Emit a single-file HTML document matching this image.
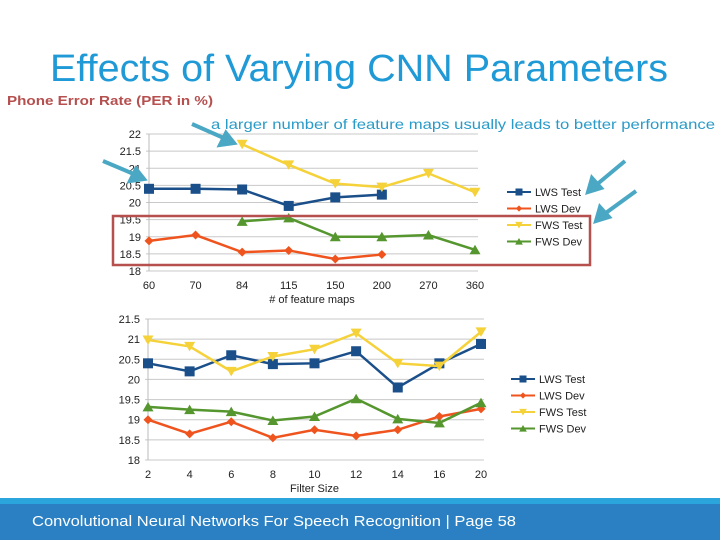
<!DOCTYPE html>
<html><head><meta charset="utf-8"><style>
html,body{margin:0;padding:0;background:#fff;}
svg{display:block;font-family:"Liberation Sans",Arial,sans-serif;}
</style></head><body>
<svg id="s" width="720" height="540" viewBox="0 0 720 540" xmlns="http://www.w3.org/2000/svg">
<text x="50" y="81" font-size="38" fill="#1f9ad6" textLength="618" lengthAdjust="spacingAndGlyphs">Effects of Varying CNN Parameters</text>
<text x="7" y="105" font-size="13" font-weight="bold" fill="#b5504f" textLength="206" lengthAdjust="spacingAndGlyphs">Phone Error Rate (PER in %)</text>
<text x="211" y="129" font-size="14" fill="#2a9bc8" textLength="504" lengthAdjust="spacingAndGlyphs">a larger number of feature maps usually leads to better performance</text>
<g id="c1"></g>
<g id="c2"></g>
<rect x="113" y="216" width="477" height="49" fill="none" stroke="#b5504f" stroke-width="2.5"/>
<g stroke="#4aa8c4" stroke-width="4" fill="#4aa8c4">
<line x1="192" y1="124" x2="226" y2="139"/><polygon points="234,143 220,145 226,133"/>
<line x1="103" y1="161" x2="136" y2="175"/><polygon points="144,179 130,181 136,169"/>
<line x1="625" y1="161" x2="595" y2="186"/><polygon points="588,192 592,178 601,188"/>
<line x1="636" y1="191" x2="603" y2="215"/><polygon points="596,221 600,207 609,217"/>
</g>
<rect x="0" y="498" width="720" height="6" fill="#2aa6dc"/>
<rect x="0" y="504" width="720" height="36" fill="#2a80c2"/>
<text x="32" y="526" font-size="15" fill="#fff" textLength="484" lengthAdjust="spacingAndGlyphs">Convolutional Neural Networks For Speech Recognition | Page  58</text>
</svg>
<script>
const c1Cats=["60","70","84","115","150","200","270","360"];
const c1LwsTest=[20.4,20.4,20.38,19.9,20.15,20.23,null,null];
const c1LwsDev=[18.88,19.05,18.55,18.6,18.35,18.48,null,null];
const c1FwsTest=[null,null,21.7,21.1,20.55,20.45,20.85,20.3];
const c1FwsDev=[null,null,19.45,19.55,19.0,19.0,19.05,18.62];
const c1Ticks=[18,18.5,19,19.5,20,20.5,21,21.5,22];
const c2Cats=["2","4","6","8","10","12","14","16","20"];
const c2LwsTest=[20.4,20.2,20.6,20.38,20.4,20.7,19.8,20.4,20.88];
const c2LwsDev=[19.0,18.65,18.95,18.55,18.75,18.6,18.75,19.08,19.27];
const c2FwsTest=[20.98,20.82,20.2,20.57,20.75,21.15,20.4,20.33,21.18];
const c2FwsDev=[19.32,19.25,19.2,18.98,19.08,19.52,19.02,18.92,19.42];
const c2Ticks=[18,18.5,19,19.5,20,20.5,21,21.5];
const seriesNames=["LWS Test","LWS Dev","FWS Test","FWS Dev"];
const colors=["#1a4f8a","#f0541e","#f5d23a","#55962e"];
const shapes=["sq","dia","tri-d","tri-u"];
const NS="http://www.w3.org/2000/svg";
function mk(t,a,p){const e=document.createElementNS(NS,t);for(const k in a)e.setAttribute(k,a[k]);p.appendChild(e);return e;}
function marker(g,shape,x,y,c){
  let e;
  if(shape==="sq")e=mk("rect",{x:x-5,y:y-5,width:10,height:10,fill:c},g);
  else if(shape==="dia")e=mk("polygon",{points:`${x},${y-4.5} ${x+4.5},${y} ${x},${y+4.5} ${x-4.5},${y}`,fill:c},g);
  else if(shape==="tri-d")e=mk("polygon",{points:`${x-5.5},${y-4.5} ${x+5.5},${y-4.5} ${x},${y+5}`,fill:c},g);
  else e=mk("polygon",{points:`${x-5.5},${y+4.5} ${x+5.5},${y+4.5} ${x},${y-5}`,fill:c},g);
  return e;
}
function chart(gid,cats,series,ticks,x0,x1,y0v,y1v,yTop,yBot,xTitle,legY,legX){
  const g=document.getElementById(gid);
  const xs=i=>x0+(x1-x0)*i/(cats.length-1);
  const ys=v=>yBot-(v-y0v)/(y1v-y0v)*(yBot-yTop);
  ticks.forEach(t=>{
    const l=mk("line",{x1:x0-3,x2:x1+3,y1:ys(t),y2:ys(t),stroke:"#c8c8c8","stroke-width":1},g);
    
    
    const tx=mk("text",{x:x0-8,y:ys(t)+4,"font-size":11,"text-anchor":"end",fill:"#222"},g);
    tx.textContent=String(t);
    
    
  });
  const ax=mk("line",{x1:x0,x2:x0,y1:yTop,y2:yBot,stroke:"#bbb"},g);
  
  
  cats.forEach((c,i)=>{
    const tx=mk("text",{x:xs(i),y:yBot+18,"font-size":11,"text-anchor":"middle",fill:"#222"},g);
    tx.textContent=c;
    
    
  });
  const xt=mk("text",{x:(x0+x1)/2,y:yBot+32,"font-size":11,"text-anchor":"middle",fill:"#222"},g);
  xt.textContent=xTitle;
  
  
  series.forEach((vals,si)=>{
    const pts=[];vals.forEach((v,i)=>{if(v!==null)pts.push(xs(i)+","+ys(v));});
    const pl=mk("polyline",{points:pts.join(" "),fill:"none",stroke:colors[si],"stroke-width":2.5},g);
    
    
    vals.forEach((v,i)=>{if(v===null)return;
      const m=marker(g,shapes[si],xs(i),ys(v),colors[si]);
      
      
    });
    const ly=legY+si*16.5;
    const ll=mk("line",{x1:legX,x2:legX+24,y1:ly,y2:ly,stroke:colors[si],"stroke-width":2},g);
    
    
    const lm=marker(g,shapes[si],legX+12,ly,colors[si]);
    lm.setAttribute('transform',`translate(${legX+12},${ly}) scale(0.7) translate(${-(legX+12)},${-ly})`);
    
    
    const lt=mk("text",{x:legX+28,y:ly+4,"font-size":11,fill:"#222"},g);
    lt.textContent=seriesNames[si];
    
    
  });
}
chart("c1",c1Cats,[c1LwsTest,c1LwsDev,c1FwsTest,c1FwsDev],c1Ticks,149,475,18,22,134,271,"# of feature maps",192,507);
chart("c2",c2Cats,[c2LwsTest,c2LwsDev,c2FwsTest,c2FwsDev],c2Ticks,148,481,18,21.5,319,460,"Filter Size",379,511);
</script>
</body></html>
